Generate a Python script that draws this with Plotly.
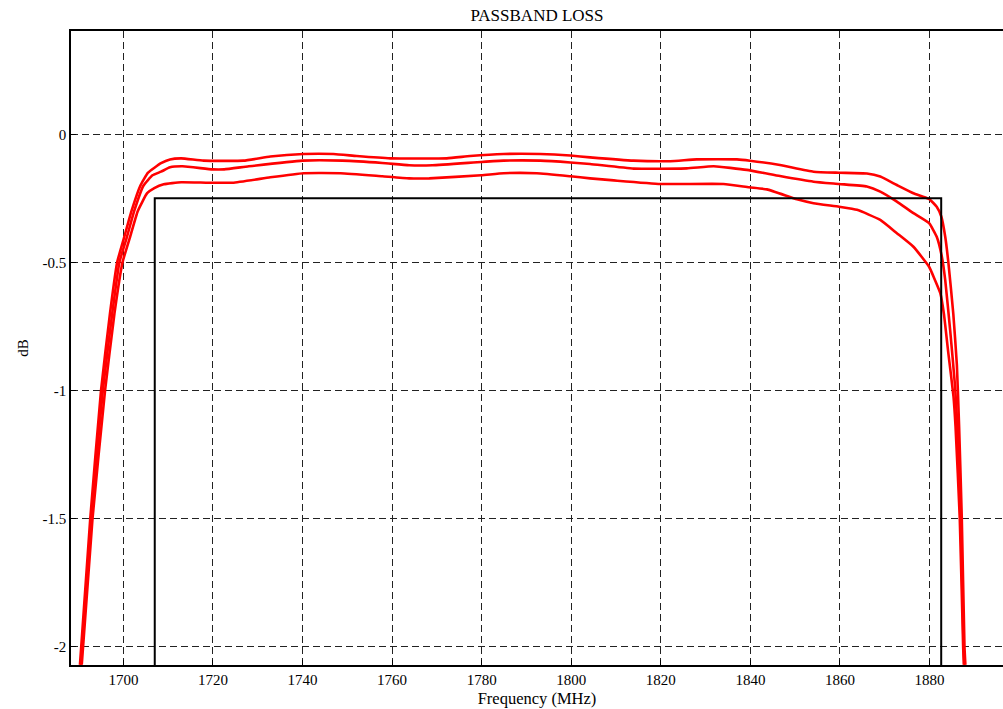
import plotly.graph_objects as go

# Curve A (top)
freq_a = [1690.3, 1692.6, 1695.0, 1697.0, 1698.6, 1700.2, 1701.8, 1703.8, 1705.5, 1708.4,
          1710.4, 1712.9, 1717.9, 1726.8, 1732.8, 1740.2, 1746.9, 1752.1, 1759.6, 1772.2,
          1777.4, 1784.9, 1793.1, 1799.8, 1804.2, 1813.9, 1822.1, 1828.0, 1837.0, 1839.9,
          1846.6, 1854.1, 1859.8, 1866.0, 1869.0, 1872.7, 1876.4, 1879.9, 1881.6, 1882.6,
          1883.5, 1884.2, 1885.3, 1886.1, 1886.6, 1887.2, 1887.8, 1888.0]
loss_a = [-2.07, -1.5, -1.0, -0.7, -0.5, -0.4, -0.3, -0.2, -0.15, -0.113,
          -0.098, -0.094, -0.103, -0.103, -0.087, -0.077, -0.077, -0.085, -0.094, -0.094,
          -0.085, -0.077, -0.077, -0.083, -0.09, -0.103, -0.105, -0.098, -0.098, -0.103,
          -0.12, -0.146, -0.15, -0.153, -0.165, -0.198, -0.23, -0.2525, -0.283, -0.32,
          -0.4, -0.5, -0.7, -0.9, -1.14, -1.5, -2.0, -2.07]

# Curve B (middle)
freq_b = [1690.5, 1692.8, 1695.4, 1697.5, 1699.1, 1700.8, 1702.4, 1704.5, 1706.5, 1708.4,
          1710.4, 1713.2, 1719.9, 1722.5, 1728.0, 1740.0, 1748.9, 1757.8, 1763.8, 1769.0,
          1779.9, 1784.9, 1793.1, 1799.8, 1804.2, 1813.9, 1825.8, 1831.8, 1839.2, 1846.6,
          1854.1, 1859.8, 1866.0, 1869.0, 1872.7, 1876.4, 1879.9, 1881.6, 1882.75, 1883.5,
          1884.6, 1885.7, 1886.2, 1886.95, 1887.6, 1887.8]
loss_b = [-2.07, -1.5, -1.0, -0.7, -0.5, -0.4, -0.3, -0.2, -0.16, -0.146,
          -0.129, -0.125, -0.137, -0.137, -0.125, -0.103, -0.103, -0.112, -0.121, -0.121,
          -0.108, -0.103, -0.103, -0.110, -0.116, -0.134, -0.133, -0.125, -0.139, -0.163,
          -0.185, -0.194, -0.204, -0.224, -0.263, -0.308, -0.347, -0.4, -0.478, -0.569,
          -0.764, -0.985, -1.14, -1.5, -2.0, -2.07]

# Curve C (bottom)
freq_c = [1690.7, 1693.1, 1695.9, 1698.0, 1699.8, 1701.5, 1703.2, 1705.3, 1706.9, 1709.0,
          1712.9, 1719.0, 1724.4, 1732.8, 1740.2, 1748.5, 1757.8, 1763.8, 1768.3, 1779.9,
          1784.9, 1792.3, 1799.8, 1804.2, 1809.5, 1819.9, 1834.0, 1839.7, 1843.7, 1850.4,
          1854.1, 1859.8, 1863.8, 1869.0, 1872.7, 1876.4, 1879.9, 1881.0, 1882.4, 1883.2,
          1884.2, 1885.35, 1885.8, 1886.75, 1887.5, 1887.65]
loss_c = [-2.07, -1.5, -1.0, -0.7, -0.5, -0.4, -0.3, -0.23, -0.21, -0.195,
          -0.187, -0.189, -0.189, -0.168, -0.152, -0.152, -0.164, -0.172, -0.172, -0.16,
          -0.152, -0.152, -0.164, -0.172, -0.18, -0.194, -0.194, -0.207, -0.215, -0.254,
          -0.269, -0.283, -0.295, -0.334, -0.386, -0.439, -0.517, -0.56, -0.62, -0.7,
          -0.855, -1.024, -1.14, -1.5, -2.0, -2.07]

# Specification mask
mask_freq = [1707.0, 1707.0, 1882.6, 1882.6]
mask_loss = [-2.3, -0.25, -0.25, -2.3]

x_ticks = [1700, 1720, 1740, 1760, 1780, 1800, 1820, 1840, 1860, 1880]
y_ticks = [0, -0.5, -1, -1.5, -2]
y_tick_text = ["0", "-0.5", "-1", "-1.5", "-2"]

fig = go.Figure()
for fx, fy in [(freq_a, loss_a), (freq_b, loss_b), (freq_c, loss_c)]:
    fig.add_trace(go.Scatter(x=fx, y=fy, mode="lines",
                             line=dict(color="#ff0000", width=2.6, shape="spline", smoothing=0.4),
                             showlegend=False, hoverinfo="skip"))
fig.add_trace(go.Scatter(x=mask_freq, y=mask_loss, mode="lines",
                         line=dict(color="#000000", width=2),
                         showlegend=False, hoverinfo="skip"))

font_family = "Liberation Serif"
fig.update_layout(
    width=1003, height=709,
    margin=dict(l=71, r=0, t=31, b=44),
    paper_bgcolor="white", plot_bgcolor="white",
    font=dict(family=font_family, size=15, color="#000000"),
    title=dict(text="PASSBAND LOSS", x=(71 + 1003) / 2 / 1003, xanchor="center",
               y=1 - 15 / 709, yanchor="middle", yref="container",
               font=dict(family=font_family, size=17, color="#000000")),
    xaxis=dict(range=[1688.3, 1896.4], tickvals=x_ticks, ticktext=[str(v) for v in x_ticks],
               showgrid=True, gridcolor="#222222", gridwidth=1, griddash="7px,4px",
               showline=True, linecolor="#000000", linewidth=1.5, mirror=True,
               ticks="inside", ticklen=5, tickcolor="#000000", zeroline=False,
               title=dict(text="Frequency (MHz)", standoff=6,
                          font=dict(family=font_family, size=16.5)),
               tickfont=dict(family=font_family, size=15)),
    yaxis=dict(range=[-2.071, 0.403], tickvals=y_ticks, ticktext=y_tick_text,
               showgrid=True, gridcolor="#222222", gridwidth=1, griddash="7px,4px",
               showline=True, linecolor="#000000", linewidth=1.5, mirror=False,
               ticks="inside", ticklen=5, tickcolor="#000000", zeroline=False,
               title=dict(text="dB", standoff=10,
                          font=dict(family=font_family, size=15)),
               tickfont=dict(family=font_family, size=15)),
)
fig.write_html("out.html")
